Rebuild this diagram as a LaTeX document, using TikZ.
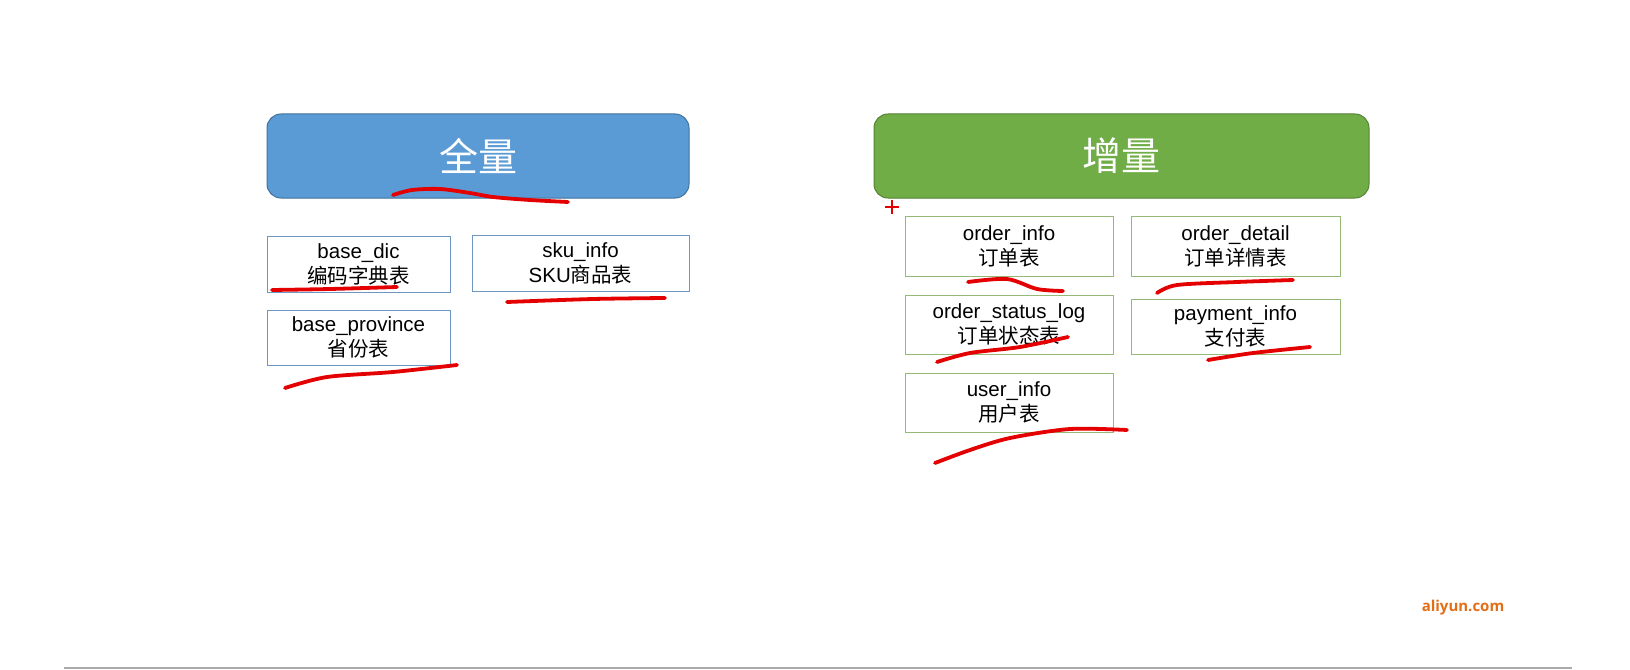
\documentclass[tikz,border=0pt]{standalone}
\usepackage{fontspec}
\setmainfont{Liberation Sans}
\newfontfamily\cjk{Noto Sans CJK SC}
\newfontfamily\logofont{Open Sans}
\definecolor{fullfill}{RGB}{91,155,213}
\definecolor{fullline}{RGB}{65,113,156}
\definecolor{incfill}{RGB}{112,173,71}
\definecolor{incline}{RGB}{84,130,53}
\definecolor{tblue}{RGB}{110,150,195}
\definecolor{tgreen}{RGB}{150,185,120}
\definecolor{markred}{RGB}{228,0,0}
\definecolor{logo}{RGB}{226,110,24}
\definecolor{rulegray}{RGB}{170,170,170}
\begin{document}
\begin{tikzpicture}[x=1bp,y=-1bp,
  bigbox/.style={draw, line width=1bp, rounded corners=14bp, minimum width=422bp, minimum height=84bp, inner sep=0pt, text=white, font=\cjk\fontsize{39bp}{42bp}\selectfont},
  tbl/.style={draw, line width=1bp, fill=white, inner sep=0pt, align=center, font=\fontsize{20.5bp}{25bp}\selectfont},
  tblb/.style={tbl, draw=tblue},
  tblg/.style={tbl, draw=tgreen},
  scribble/.style={draw=markred, line width=3.8bp, line cap=round, line join=round}
]
\useasboundingbox (0,0) rectangle (1630,670);
\fill[white] (0,0) rectangle (1630,670);

% headers
\node[bigbox, fill=fullfill, draw=fullline, minimum width=422bp] (full) at (478,156) {全量};
\node[bigbox, fill=incfill, draw=incline, minimum width=495bp] (inc) at (1121.5,156) {增量};

% full tables
\node[tblb, minimum width=183bp, minimum height=56bp] (basedic) at (358.5,264) {base\_dic\\{\cjk 编码字典表}};
\node[tblb, minimum width=217bp, minimum height=56bp] (sku) at (580.5,263) {sku\_info\\SKU{\cjk 商品表}};
\node[tblb, minimum width=183bp, minimum height=55bp] (prov) at (358.5,337.5) {base\_province\\{\cjk 省份表}};

% incremental tables
\node[tblg, minimum width=208bp, minimum height=60bp] (oinfo) at (1009,246) {order\_info\\{\cjk 订单表}};
\node[tblg, minimum width=209bp, minimum height=60bp] (odetail) at (1235.5,246) {order\_detail\\{\cjk 订单详情表}};
\node[tblg, minimum width=208bp, minimum height=59bp] (ostatus) at (1009,324.5) {order\_status\_log\\{\cjk 订单状态表}};
\node[tblg, minimum width=209bp, minimum height=55bp] (pay) at (1235.5,326.5) {payment\_info\\{\cjk 支付表}};
\node[tblg, minimum width=208bp, minimum height=59bp] (user) at (1009,402.5) {user\_info\\{\cjk 用户表}};

% red marks
\draw[scribble] plot[smooth] coordinates {(393,195) (412,190) (440,189) (470,193) (493,197) (530,200) (568,202)};
\draw[scribble] plot[smooth] coordinates {(272,290) (330,289) (397,287)};
\draw[scribble] plot[smooth] coordinates {(507,302) (593,299) (665,298)};
\draw[scribble] plot[smooth] coordinates {(285,388) (327,377) (393,372) (457,365)};
\draw[scribble] plot[smooth] coordinates {(968,282) (1007,279) (1037,289) (1063,291)};
\draw[scribble] plot[smooth] coordinates {(1157,293) (1177,285) (1237,282) (1293,280)};
\draw[scribble] plot[smooth] coordinates {(937,362) (970,353) (1020,347) (1068,337)};
\draw[scribble] plot[smooth] coordinates {(1208,360) (1253,353) (1310,347)};
\draw[scribble] plot[smooth] coordinates {(935,463) (970,450) (1010,438) (1070,429) (1127,430)};

% red plus
\coordinate (plus) at (892,207);
\draw[draw=markred, line width=2.5bp] ([xshift=-7bp]plus) -- ([xshift=7bp]plus);
\draw[draw=markred, line width=2.5bp] ([yshift=-7bp]plus) -- ([yshift=7bp]plus);

% logo and rule
\node[text=logo, font=\logofont\bfseries\fontsize{15bp}{18bp}\selectfont, inner sep=0pt] (logo) at (1463,608) {aliyun.com};
\coordinate (ruleL) at (64,668);
\coordinate (ruleR) at (1572,668);
\draw[draw=rulegray, line width=1.5bp] (ruleL) -- (ruleR);
\end{tikzpicture}
\end{document}
